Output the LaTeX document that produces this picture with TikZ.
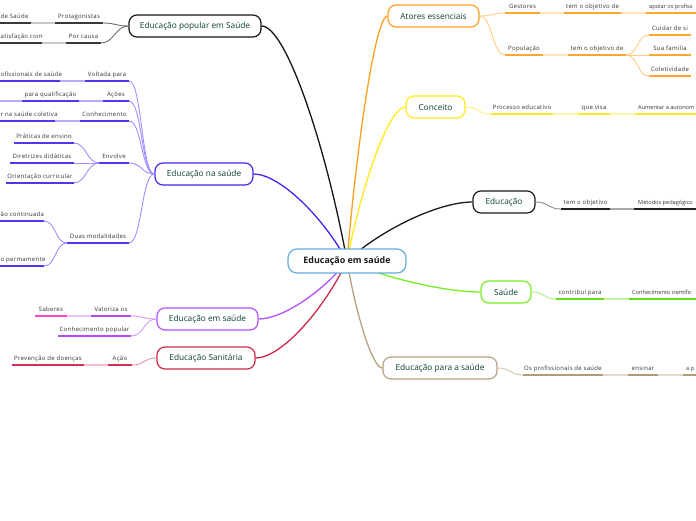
\documentclass[tikz,border=0pt]{standalone}
\usepackage{fontspec}
\setmainfont{Open Sans}
\newfontfamily\lblfont{Open Sans}[LetterSpace=5]
\usetikzlibrary{backgrounds}
\definecolor{txtg}{HTML}{0A3F31}
\definecolor{cblue}{HTML}{63AEE0}
% group colours: main, underline, light segment, connector
\definecolor{epM}{HTML}{151515}\definecolor{epU}{HTML}{3A3A3A}\definecolor{epL}{HTML}{C8C8C8}\definecolor{epC}{HTML}{707070}
\definecolor{enM}{HTML}{4A22F2}\definecolor{enU}{HTML}{5533F0}\definecolor{enL}{HTML}{B8ACFF}\definecolor{enC}{HTML}{A090FF}
\definecolor{emM}{HTML}{B450FF}\definecolor{emU}{HTML}{B24CF5}\definecolor{emL}{HTML}{E6C4FF}\definecolor{emC}{HTML}{CF9CFF}\definecolor{emP}{HTML}{FF44CC}
\definecolor{esM}{HTML}{CC2A48}\definecolor{esU}{HTML}{CC3355}\definecolor{esL}{HTML}{F2C0C8}\definecolor{esC}{HTML}{E8909F}
\definecolor{aeM}{HTML}{FFA020}\definecolor{aeU}{HTML}{FFA733}\definecolor{aeL}{HTML}{FFE2B8}\definecolor{aeC}{HTML}{FFCC80}
\definecolor{coM}{HTML}{FFEA1A}\definecolor{coU}{HTML}{FFE82A}\definecolor{coL}{HTML}{FFF5B0}\definecolor{coC}{HTML}{FFF07A}
\definecolor{edM}{HTML}{1A1A1A}\definecolor{edU}{HTML}{222222}\definecolor{edL}{HTML}{AAAAAA}\definecolor{edC}{HTML}{888888}
\definecolor{saM}{HTML}{77F022}\definecolor{saU}{HTML}{66DD22}\definecolor{saL}{HTML}{BFF5A0}\definecolor{saC}{HTML}{A8F080}
\definecolor{psM}{HTML}{B8A080}\definecolor{psU}{HTML}{B09A78}\definecolor{psL}{HTML}{E3DACB}\definecolor{psC}{HTML}{D4C6B0}
\tikzset{
  lbl/.style={font=\lblfont\fontsize{6}{7}\selectfont, text=black!80, inner sep=0pt},
  lblr/.style={font=\fontsize{5.6}{7}\selectfont, text=black!80, inner sep=0pt},
  uline/.style={line width=1.8pt},
  lseg/.style={line width=1.6pt},
  subc/.style={line width=0.9pt},
  mainc/.style={line width=1.3pt},
  branch/.style={draw=#1, fill=white, line width=1.2pt, rounded corners=8pt,
    minimum height=22pt, inner sep=0pt, font=\fontsize{8.3}{10}\selectfont, text=txtg},
  centre/.style={draw=cblue, fill=white, line width=1.2pt, rounded corners=9pt,
    minimum height=24pt, minimum width=118pt, inner sep=0pt,
    font=\fontsize{8.9}{10}\selectfont\bfseries, text=black!90}
}
% centred label: name, x1, x2, y, underline colour, text
\newcommand\labc[6]{%
  \coordinate (#1-w) at (#2,#4);
  \coordinate (#1-e) at (#3,#4);
  \node[lbl, anchor=base] (#1) at ({(#2+#3)/2},{#4-4.5}) {#6};
  \draw[uline,#5] (#1-w) -- (#1-e);
}
% at the left edge: name, x2, y, colour, text
\newcommand\labr[5]{%
  \coordinate (#1-w) at (-5,#3);
  \coordinate (#1-e) at (#2,#3);
  \node[lbl, anchor=base west] (#1) at (0.5,{#3-4.5}) {#5};
  \draw[uline,#4] (#1-w) -- (#1-e);
}
% at the right edge: name, x1, y, colour, text, text left end
\newcommand\labl[6]{%
  \coordinate (#1-w) at (#2,#3);
  \coordinate (#1-e) at (701,#3);
  \node[lblr, anchor=base west] (#1) at (#6,{#3-4.5}) {#5};
  \draw[uline,#4] (#1-w) -- (#1-e);
}
\begin{document}
\begin{tikzpicture}[x=1pt,y=-1pt]
\useasboundingbox (0,0) rectangle (696,520);
% central and main nodes
\node[centre] (c) at (347,261) {Educação em saúde};
\node[branch=epM, minimum width=132pt] (ep) at (195,26) {Educação popular em Saúde};
\node[branch=enM, minimum width=98pt] (en) at (204,174) {Educação na saúde};
\node[branch=emM, minimum width=101pt] (em) at (207.5,319) {Educação em saúde};
\node[branch=esM, minimum width=98pt] (es) at (206,358) {Educação Sanitária};
\node[branch=aeM, minimum width=91pt] (ae) at (433.5,16) {Atores essenciais};
\node[branch=coM, minimum width=59pt] (co) at (435.5,107) {Conceito};
\node[branch=edM, minimum width=62pt] (ed) at (504,202) {Educação};
\node[branch=saM, minimum width=50pt] (sa) at (506,292) {Saúde};
\node[branch=psM, minimum width=114pt] (ps) at (440,368) {Educação para a saúde};
\begin{pgfonlayer}{background}
\fill[white] (0,0) rectangle (696,520);
\draw[mainc,epM] (c.center) .. controls +(-21.5,-117.5) and +(24,0) .. (ep.east);
\draw[mainc,enM] (c.center) .. controls +(-23.5,-43.5) and +(26.3,0) .. (en.east);
\draw[mainc,emM] (c.center) .. controls +(-22.5,29) and +(25,0) .. (em.east);
\draw[mainc,esM] (c.center) .. controls +(-23,48.5) and +(25.8,0) .. (es.east);
\draw[mainc,aeM] (c.center) .. controls +(10.3,-122.5) and +(-11.5,0) .. (ae.west);
\draw[mainc,coM] (c.center) .. controls +(14.8,-77) and +(-16.5,0) .. (co.west);
\draw[mainc,edM] (c.center) .. controls +(31.5,-29.5) and +(-35.3,0) .. (ed.west);
\draw[mainc,saM] (c.center) .. controls +(33.5,15.5) and +(-37.5,0) .. (sa.west);
\draw[mainc,psM] (c.center) .. controls +(9,53.5) and +(-10,0) .. (ps.west);
\end{pgfonlayer}
% ---- Educação popular em Saúde
\labc{ep1}{55}{103}{23}{epU}{Protagonistas}
\labr{ep1a}{31}{23}{epU}{de Saúde}
\labc{ep2}{66}{101}{43}{epU}{Por causa}
\labr{ep2a}{42}{43}{epU}{atisfação com}
\draw[lseg,epL] (ep1a-e) -- (ep1-w);
\draw[lseg,epL] (ep2a-e) -- (ep2-w);
\foreach \t in {ep1,ep2}
  \draw[subc,epC] (ep.west) .. controls +(-13,0) and +(13,0) .. (\t-e);
% ---- Educação na saúde
\labc{en1}{85}{129}{81}{enU}{Voltada para}
\labr{en1a}{60}{81}{enU}{ofissionais de saúde}
\labc{en2}{103}{129}{101}{enU}{Ações}
\labc{en2a}{22}{79}{101}{enU}{para qualificação}
\coordinate (en2b) at (-5,101);
\labc{en3}{80}{129}{121}{enU}{Conhecimento}
\labr{en3a}{55}{121}{enU}{r na saúde coletiva}
\labc{en4}{99}{129}{163}{enU}{Envolve}
\labc{en4a}{14}{74}{143}{enU}{Práticas de ensino}
\labc{en4b}{10}{74}{163}{enU}{Diretrizes didáticas}
\labc{en4c}{6}{74}{183}{enU}{Orientação curricular}
\labc{en5}{67}{129}{243}{enU}{Duas modalidades}
\labr{en5a}{44}{221}{enU}{ão continuada}
\labr{en5b}{44}{266}{enU}{o permamente}
\draw[lseg,enL] (en1a-e) -- (en1-w);
\draw[lseg,enL] (en2a-e) -- (en2-w);
\draw[lseg,enL] (en2b) -- (en2a-w);
\draw[lseg,enL] (en3a-e) -- (en3-w);
\foreach \t in {en4a,en4b,en4c}
  \draw[subc,enC] (en4-w) .. controls +(-12,0) and +(12,0) .. (\t-e);
\foreach \t in {en5a,en5b}
  \draw[subc,enC] (en5-w) .. controls +(-12,0) and +(12,0) .. (\t-e);
\foreach \t in {en1,en2,en3,en4,en5}
  \draw[subc,enC] (en.west) .. controls +(-13,0) and +(13,0) .. (\t-e);
% ---- Educação em saúde
\labc{em1}{91}{131}{316}{emU}{Valoriza os}
\labc{em1a}{35}{67}{316}{emP}{Saberes}
\labc{em2}{58}{131}{336}{emU}{Conhecimento popular}
\draw[lseg,emL] (em1a-e) -- (em1-w);
\foreach \t in {em1,em2}
  \draw[subc,emC] (em.west) .. controls +(-13,0) and +(13,0) .. (\t-e);
% ---- Educação Sanitária
\labc{es1}{108}{132}{365}{esU}{Ação}
\labc{es1a}{12}{84}{365}{esU}{Prevenção de doenças}
\draw[lseg,esL] (es1a-e) -- (es1-w);
\draw[subc,esC] (es.west) .. controls +(-13,0) and +(13,0) .. (es1-e);
% ---- Atores essenciais
\labc{ae1}{505}{540}{13}{aeU}{Gestores}
\labc{ae1a}{564}{621}{13}{aeU}{tem o objetivo de}
\labl{ae1b}{646}{13}{aeU}{apoiar os profiss}{649}
\labc{ae2}{505}{543}{55}{aeU}{População}
\labc{ae2a}{568}{626}{55}{aeU}{tem o objetivo de}
\labc{ae2b}{649}{691}{35}{aeU}{Cuidar de si}
\labc{ae2c}{649}{691}{55}{aeU}{Sua família}
\labc{ae2d}{649}{691}{76}{aeU}{Coletividade}
\draw[lseg,aeL] (ae1-e) -- (ae1a-w);
\draw[lseg,aeL] (ae1a-e) -- (ae1b-w);
\draw[lseg,aeL] (ae2-e) -- (ae2a-w);
\foreach \t in {ae2b,ae2c,ae2d}
  \draw[subc,aeC] (ae2a-e) .. controls +(12,0) and +(-12,0) .. (\t-w);
\foreach \t in {ae1,ae2}
  \draw[subc,aeC] (ae.east) .. controls +(13,0) and +(-13,0) .. (\t-w);
% ---- Conceito
\labc{co1}{491}{553}{114}{coU}{Processo educativo}
\labc{co1a}{578}{610}{114}{coU}{que visa}
\labl{co1b}{635}{114}{coU}{Aumentar a autonom}{638}
\draw[lseg,coL] (co1-e) -- (co1a-w);
\draw[lseg,coL] (co1a-e) -- (co1b-w);
\draw[subc,coC] (co.east) .. controls +(13,0) and +(-13,0) .. (co1-w);
% ---- Educação
\labc{ed1}{561}{610}{209}{edU}{tem o objetivo}
\labl{ed1a}{634}{209}{edU}{Métodos pedagógico}{638}
\draw[lseg,edL] (ed1-e) -- (ed1a-w);
\draw[subc,edC] (ed.east) .. controls +(13,0) and +(-13,0) .. (ed1-w);
% ---- Saúde
\labc{sa1}{556}{604}{299}{saU}{contribui para}
\labl{sa1a}{629}{299}{saU}{Conhecimento científic}{632}
\draw[lseg,saL] (sa1-e) -- (sa1a-w);
\draw[subc,saC] (sa.east) .. controls +(13,0) and +(-13,0) .. (sa1-w);
% ---- Educação para a saúde
\labc{ps1}{523}{603}{375}{psU}{Os profissionais de saúde}
\labc{ps1a}{628}{658}{375}{psU}{ensinar}
\labl{ps1b}{683}{375}{psU}{a p}{686}
\draw[lseg,psL] (ps1-e) -- (ps1a-w);
\draw[lseg,psL] (ps1a-e) -- (ps1b-w);
\draw[subc,psC] (ps.east) .. controls +(13,0) and +(-13,0) .. (ps1-w);
\end{tikzpicture}
\end{document}
